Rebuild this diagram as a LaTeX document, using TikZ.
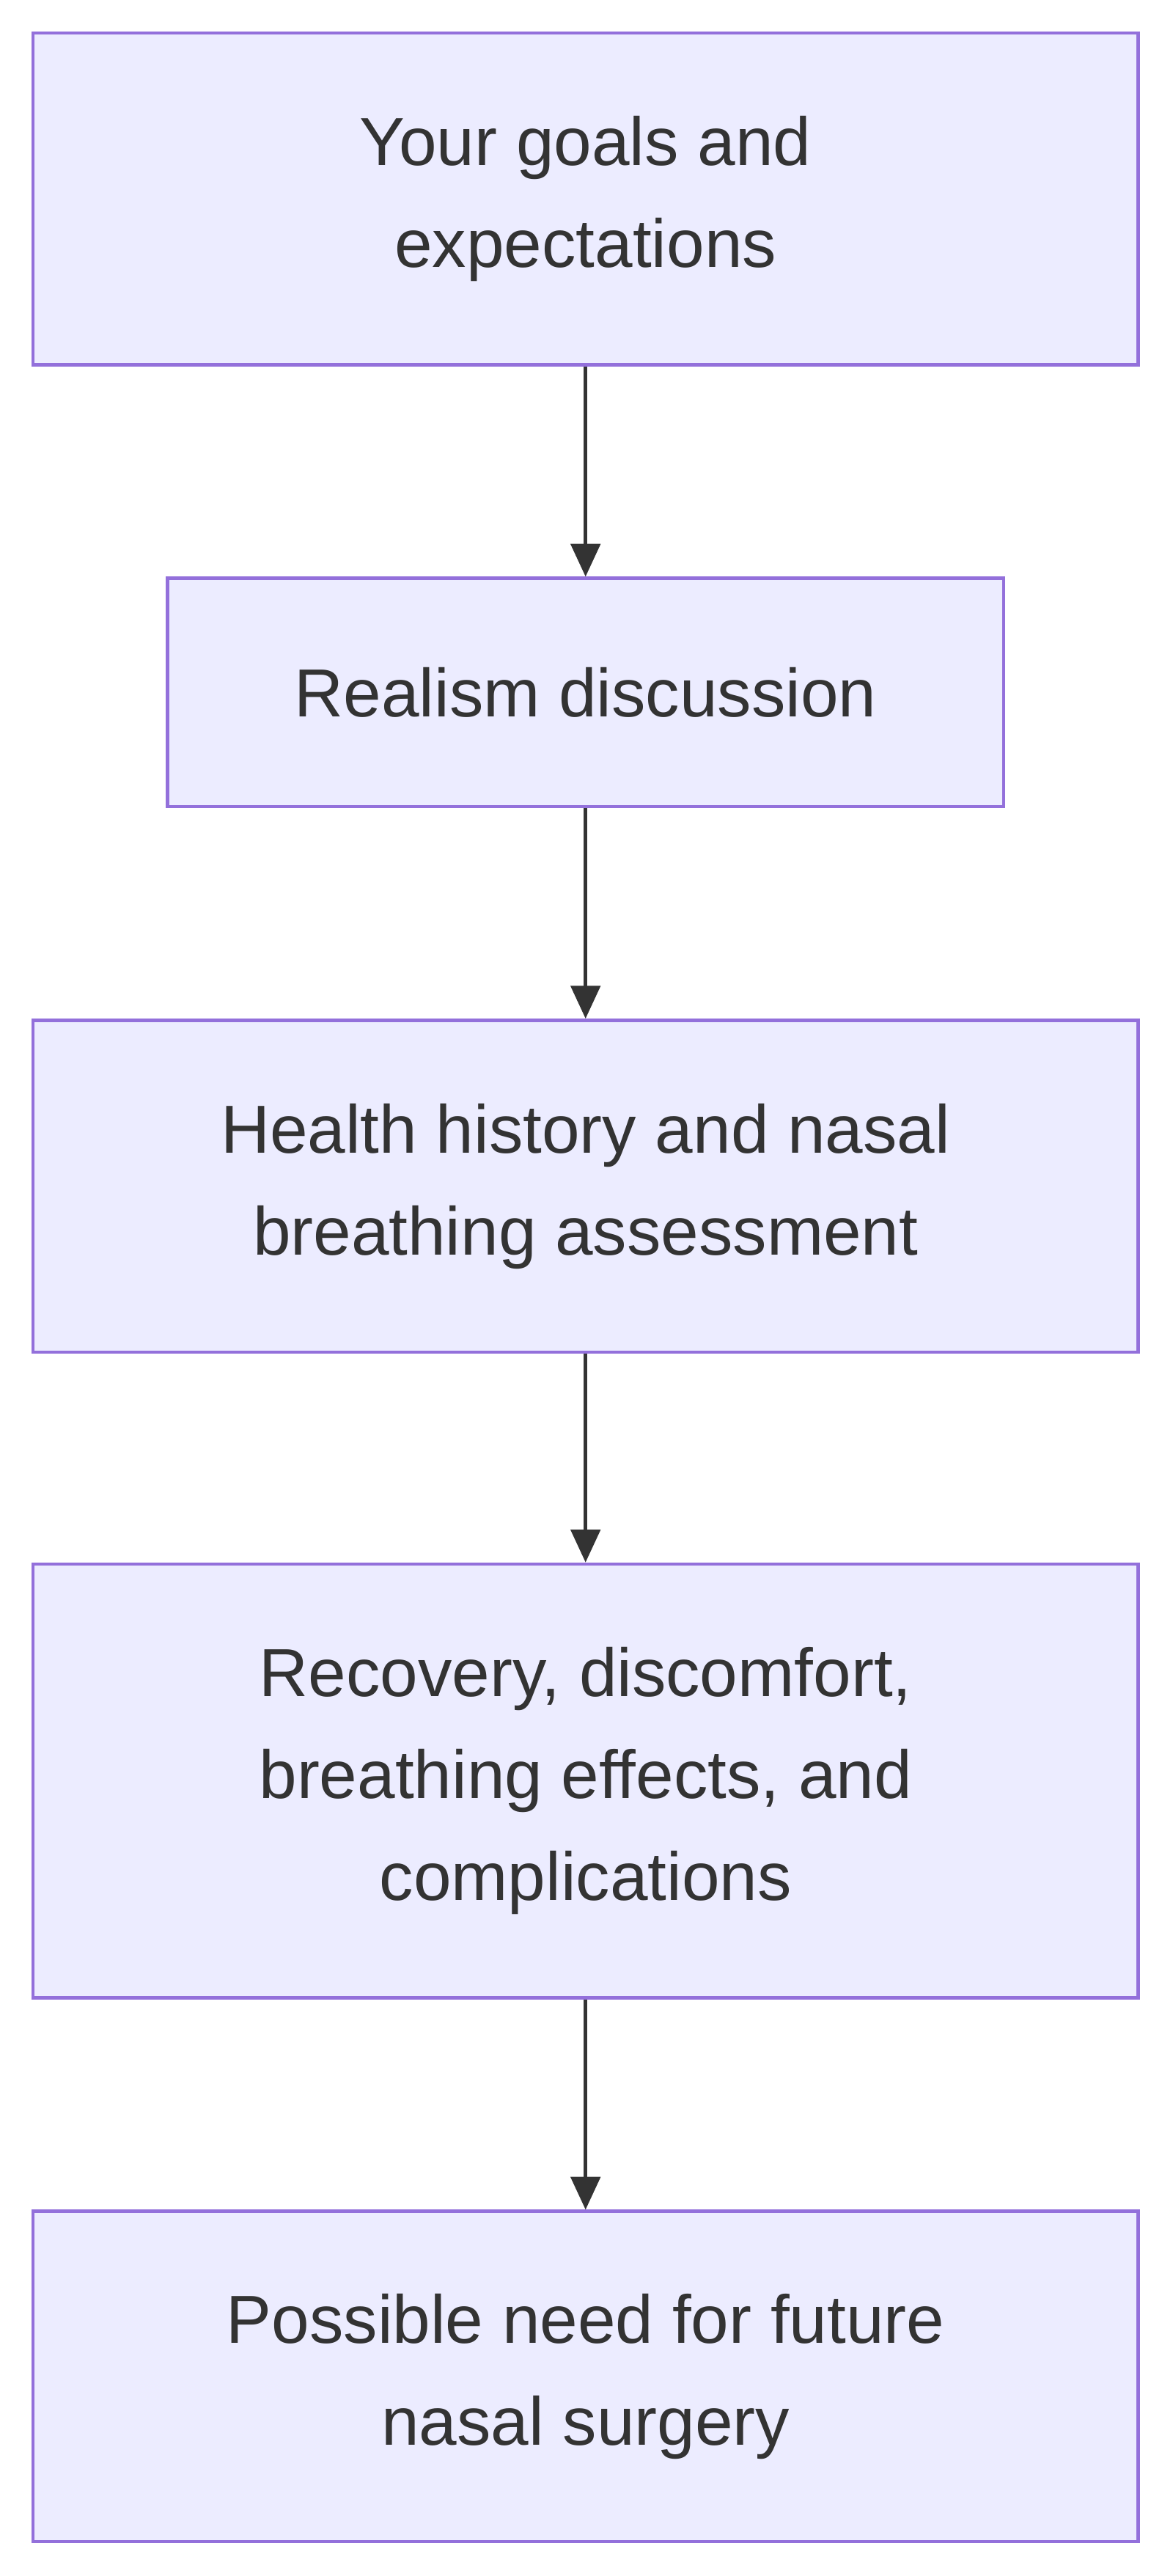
\documentclass[tikz,border=0pt]{standalone}
\usepackage{fontspec}
\setmainfont{Liberation Sans}
\usetikzlibrary{arrows.meta}
\definecolor{bfill}{HTML}{ECECFF}
\definecolor{bline}{HTML}{9370DB}
\definecolor{tcol}{HTML}{333333}
\begin{document}
\begin{tikzpicture}[x=1pt,y=-1pt,
  box/.style={draw=bline,fill=bfill,line width=2pt,text=tcol,align=center,
    font=\fontsize{41.4}{62}\selectfont,inner sep=0pt},
  arr/.style={draw=tcol,line width=2pt,-{Triangle[length=20pt,width=18pt]}}]
\useasboundingbox (0,0) rectangle (714,1568);
\node[box,minimum width=673pt,minimum height=202pt] (a) at (356.5,121) {Your goals and\\ expectations};
\node[box,minimum width=509pt,minimum height=139pt] (b) at (356.5,421.5) {Realism discussion};
\node[box,minimum width=673pt,minimum height=202pt] (c) at (356.5,722) {Health history and nasal\\ breathing assessment};
\node[box,minimum width=673pt,minimum height=264pt] (d) at (356.5,1084) {Recovery, discomfort,\\ breathing effects, and\\ complications};
\node[box,minimum width=673pt,minimum height=201pt] (e) at (356.5,1446.5) {Possible need for future\\ nasal surgery};
\draw[arr] (a) -- (b);
\draw[arr] (b) -- (c);
\draw[arr] (c) -- (d);
\draw[arr] (d) -- (e);
\end{tikzpicture}
\end{document}
